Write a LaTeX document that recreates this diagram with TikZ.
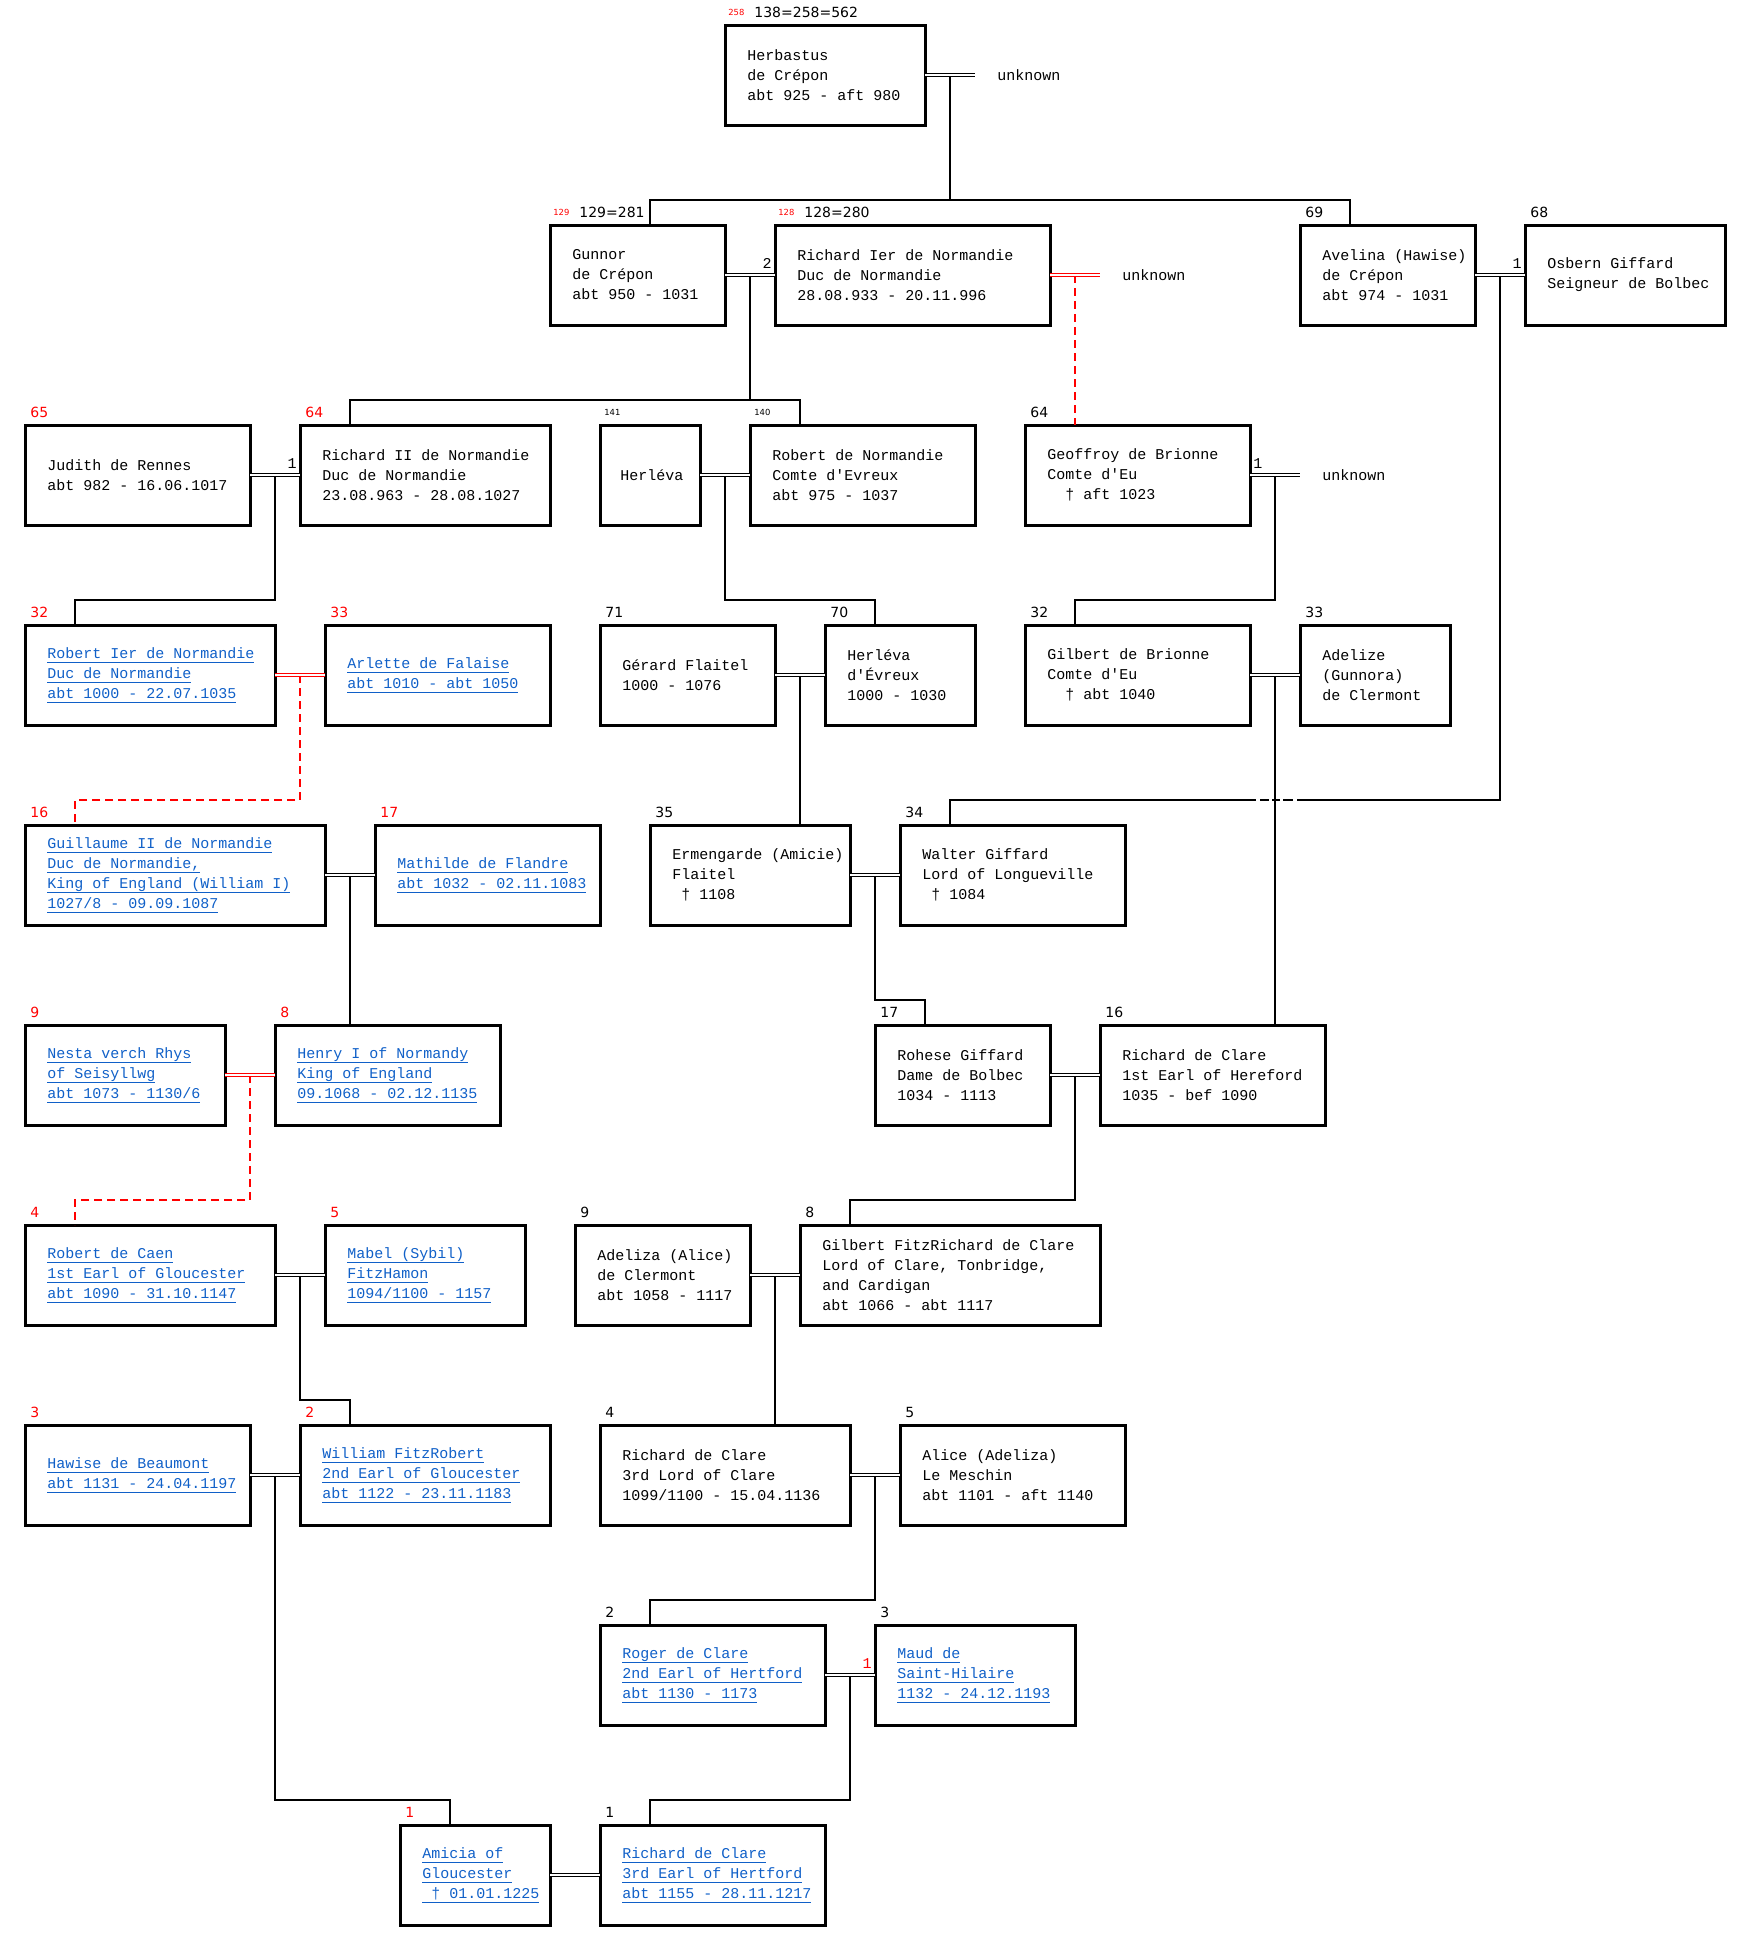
\documentclass[tikz,border=0pt]{standalone}
\usepackage{fontspec}
\setmonofont{Liberation Mono}
\newfontfamily\numfont{DejaVu Sans}
\definecolor{linkblue}{RGB}{16,96,200}
\newsavebox\lnkbox
\newcommand{\lnk}[1]{\sbox\lnkbox{#1}\rlap{\rule[-2pt]{\wd\lnkbox}{0.45pt}}\usebox\lnkbox}

\tikzset{
  pbox/.style={draw, line width=1.5pt, anchor=north west, inner sep=0pt, outer sep=0pt,
    minimum height=50pt, minimum width=#1*12.5pt},
  ptxt/.style={anchor=west, inner sep=0pt, align=left, font=\ttfamily\fontsize{7.5}{10}\selectfont},
  ltxt/.style={ptxt, text=linkblue},
  num/.style={anchor=base west, inner sep=0pt, font=\numfont\fontsize{7}{8}\selectfont},
  tnum/.style={anchor=base west, inner sep=0pt, font=\numfont\fontsize{4.2}{5}\selectfont},
  cnt/.style={inner sep=0pt, font=\ttfamily\fontsize{7.5}{10}\selectfont},
  wed/.style={double, line width=0.45pt, double distance=0.75pt},
  redwed/.style={wed, draw=red},
  desc/.style={line width=0.9pt},
  reddesc/.style={desc, draw=red, dash pattern=on 4pt off 2.5pt}
}

\begin{document}
\begin{tikzpicture}[x=12.5pt, y=-12.5pt]
\useasboundingbox (0,0) rectangle (70.04,78.04);

% row 0
\node[pbox=8] (herb) at (29,1) {};
\node[ptxt] (herbT) at ([xshift=11pt]herb.west) {Herbastus\\de Crépon\\abt 925 - aft 980};
\node[tnum, red] (herbS) at ([shift={(1.5pt,5pt)}]herb.north west) {258};
\node[num] (herbN) at ([shift={(14.5pt,4pt)}]herb.north west) {138=258=562};

% row 1
\node[pbox=7] (gunnor) at (22,9) {};
\node[ptxt] (gunnorT) at ([xshift=11pt]gunnor.west) {Gunnor\\de Crépon\\abt 950 - 1031};
\node[tnum, red] (gunnorS) at ([shift={(1.5pt,5pt)}]gunnor.north west) {129};
\node[num] (gunnorN) at ([shift={(14.5pt,4pt)}]gunnor.north west) {129=281};

\node[pbox=11] (richI) at (31,9) {};
\node[ptxt] (richIT) at ([xshift=11pt]richI.west) {Richard Ier de Normandie\\Duc de Normandie\\28.08.933 - 20.11.996};
\node[tnum, red] (richIS) at ([shift={(1.5pt,5pt)}]richI.north west) {128};
\node[num] (richIN) at ([shift={(14.5pt,4pt)}]richI.north west) {128=280};

\node[pbox=7] (avelina) at (52,9) {};
\node[ptxt] (avelinaT) at ([xshift=11pt]avelina.west) {Avelina (Hawise)\\de Crépon\\abt 974 - 1031};
\node[num] (avelinaN) at ([shift={(2.5pt,4pt)}]avelina.north west) {69};

\node[pbox=8] (osbern) at (61,9) {};
\node[ptxt] (osbernT) at ([xshift=11pt]osbern.west) {Osbern Giffard\\Seigneur de Bolbec};
\node[num] (osbernN) at ([shift={(2.5pt,4pt)}]osbern.north west) {68};

% row 2
\node[pbox=9] (judith) at (1,17) {};
\node[ptxt] (judithT) at ([xshift=11pt]judith.west) {Judith de Rennes\\abt 982 - 16.06.1017};
\node[num, red] (judithN) at ([shift={(2.5pt,4pt)}]judith.north west) {65};

\node[pbox=10] (richII) at (12,17) {};
\node[ptxt] (richIIT) at ([xshift=11pt]richII.west) {Richard II de Normandie\\Duc de Normandie\\23.08.963 - 28.08.1027};
\node[num, red] (richIIN) at ([shift={(2.5pt,4pt)}]richII.north west) {64};

\node[pbox=4] (herleva) at (24,17) {};
\node[ptxt] (herlevaT) at ([xshift=10pt]herleva.west) {Herléva};
\node[tnum] (herlevaN) at ([shift={(2pt,5pt)}]herleva.north west) {141};

\node[pbox=9] (robNorm) at (30,17) {};
\node[ptxt] (robNormT) at ([xshift=11pt]robNorm.west) {Robert de Normandie\\Comte d'Evreux\\abt 975 - 1037};
\node[tnum] (robNormN) at ([shift={(2pt,5pt)}]robNorm.north west) {140};

\node[pbox=9] (geoffroy) at (41,17) {};
\node[ptxt] (geoffroyT) at ([xshift=11pt]geoffroy.west) {Geoffroy de Brionne\\Comte d'Eu\\\phantom{00}† aft 1023};
\node[num] (geoffroyN) at ([shift={(2.5pt,4pt)}]geoffroy.north west) {64};

% row 3
\node[pbox=10] (robertI) at (1,25) {};
\node[ltxt] (robertIT) at ([xshift=11pt]robertI.west) {\lnk{Robert Ier de Normandie}\\\lnk{Duc de Normandie}\\\lnk{abt 1000 - 22.07.1035}};
\node[num, red] (robertIN) at ([shift={(2.5pt,4pt)}]robertI.north west) {32};

\node[pbox=9] (arlette) at (13,25) {};
\node[ltxt] (arletteT) at ([xshift=11pt]arlette.west) {\lnk{Arlette de Falaise}\\\lnk{abt 1010 - abt 1050}};
\node[num, red] (arletteN) at ([shift={(2.5pt,4pt)}]arlette.north west) {33};

\node[pbox=7] (gerard) at (24,25) {};
\node[ptxt] (gerardT) at ([xshift=11pt]gerard.west) {Gérard Flaitel\\1000 - 1076};
\node[num] (gerardN) at ([shift={(2.5pt,4pt)}]gerard.north west) {71};

\node[pbox=6] (herlevaE) at (33,25) {};
\node[ptxt] (herlevaET) at ([xshift=11pt]herlevaE.west) {Herléva\\d'Évreux\\1000 - 1030};
\node[num] (herlevaEN) at ([shift={(2.5pt,4pt)}]herlevaE.north west) {70};

\node[pbox=9] (gilbertB) at (41,25) {};
\node[ptxt] (gilbertBT) at ([xshift=11pt]gilbertB.west) {Gilbert de Brionne\\Comte d'Eu\\\phantom{00}† abt 1040};
\node[num] (gilbertBN) at ([shift={(2.5pt,4pt)}]gilbertB.north west) {32};

\node[pbox=6] (adelize) at (52,25) {};
\node[ptxt] (adelizeT) at ([xshift=11pt]adelize.west) {Adelize\\(Gunnora)\\de Clermont};
\node[num] (adelizeN) at ([shift={(2.5pt,4pt)}]adelize.north west) {33};

% row 4
\node[pbox=12] (guillaume) at (1,33) {};
\node[ltxt] (guillaumeT) at ([xshift=11pt]guillaume.west) {\lnk{Guillaume II de Normandie}\\\lnk{Duc de Normandie,}\\\lnk{King of England (William I)}\\\lnk{1027/8 - 09.09.1087}};
\node[num, red] (guillaumeN) at ([shift={(2.5pt,4pt)}]guillaume.north west) {16};

\node[pbox=9] (mathilde) at (15,33) {};
\node[ltxt] (mathildeT) at ([xshift=11pt]mathilde.west) {\lnk{Mathilde de Flandre}\\\lnk{abt 1032 - 02.11.1083}};
\node[num, red] (mathildeN) at ([shift={(2.5pt,4pt)}]mathilde.north west) {17};

\node[pbox=8] (ermengarde) at (26,33) {};
\node[ptxt] (ermengardeT) at ([xshift=11pt]ermengarde.west) {Ermengarde (Amicie)\\Flaitel\\\phantom{0}† 1108};
\node[num] (ermengardeN) at ([shift={(2.5pt,4pt)}]ermengarde.north west) {35};

\node[pbox=9] (walter) at (36,33) {};
\node[ptxt] (walterT) at ([xshift=11pt]walter.west) {Walter Giffard\\Lord of Longueville\\\phantom{0}† 1084};
\node[num] (walterN) at ([shift={(2.5pt,4pt)}]walter.north west) {34};

% row 5
\node[pbox=8] (nesta) at (1,41) {};
\node[ltxt] (nestaT) at ([xshift=11pt]nesta.west) {\lnk{Nesta verch Rhys}\\\lnk{of Seisyllwg}\\\lnk{abt 1073 - 1130/6}};
\node[num, red] (nestaN) at ([shift={(2.5pt,4pt)}]nesta.north west) {9};

\node[pbox=9] (henry) at (11,41) {};
\node[ltxt] (henryT) at ([xshift=11pt]henry.west) {\lnk{Henry I of Normandy}\\\lnk{King of England}\\\lnk{09.1068 - 02.12.1135}};
\node[num, red] (henryN) at ([shift={(2.5pt,4pt)}]henry.north west) {8};

\node[pbox=7] (rohese) at (35,41) {};
\node[ptxt] (roheseT) at ([xshift=11pt]rohese.west) {Rohese Giffard\\Dame de Bolbec\\1034 - 1113};
\node[num] (roheseN) at ([shift={(2.5pt,4pt)}]rohese.north west) {17};

\node[pbox=9] (richClareA) at (44,41) {};
\node[ptxt] (richClareAT) at ([xshift=11pt]richClareA.west) {Richard de Clare\\1st Earl of Hereford\\1035 - bef 1090};
\node[num] (richClareAN) at ([shift={(2.5pt,4pt)}]richClareA.north west) {16};

% row 6
\node[pbox=10] (robCaen) at (1,49) {};
\node[ltxt] (robCaenT) at ([xshift=11pt]robCaen.west) {\lnk{Robert de Caen}\\\lnk{1st Earl of Gloucester}\\\lnk{abt 1090 - 31.10.1147}};
\node[num, red] (robCaenN) at ([shift={(2.5pt,4pt)}]robCaen.north west) {4};

\node[pbox=8] (mabel) at (13,49) {};
\node[ltxt] (mabelT) at ([xshift=11pt]mabel.west) {\lnk{Mabel (Sybil)}\\\lnk{FitzHamon}\\\lnk{1094/1100 - 1157}};
\node[num, red] (mabelN) at ([shift={(2.5pt,4pt)}]mabel.north west) {5};

\node[pbox=7] (adeliza) at (23,49) {};
\node[ptxt] (adelizaT) at ([xshift=11pt]adeliza.west) {Adeliza (Alice)\\de Clermont\\abt 1058 - 1117};
\node[num] (adelizaN) at ([shift={(2.5pt,4pt)}]adeliza.north west) {9};

\node[pbox=12] (gilbertF) at (32,49) {};
\node[ptxt] (gilbertFT) at ([xshift=11pt]gilbertF.west) {Gilbert FitzRichard de Clare\\Lord of Clare, Tonbridge,\\and Cardigan\\abt 1066 - abt 1117};
\node[num] (gilbertFN) at ([shift={(2.5pt,4pt)}]gilbertF.north west) {8};

% row 7
\node[pbox=9] (hawise) at (1,57) {};
\node[ltxt] (hawiseT) at ([xshift=11pt]hawise.west) {\lnk{Hawise de Beaumont}\\\lnk{abt 1131 - 24.04.1197}};
\node[num, red] (hawiseN) at ([shift={(2.5pt,4pt)}]hawise.north west) {3};

\node[pbox=10] (william) at (12,57) {};
\node[ltxt] (williamT) at ([xshift=11pt]william.west) {\lnk{William FitzRobert}\\\lnk{2nd Earl of Gloucester}\\\lnk{abt 1122 - 23.11.1183}};
\node[num, red] (williamN) at ([shift={(2.5pt,4pt)}]william.north west) {2};

\node[pbox=10] (richClareB) at (24,57) {};
\node[ptxt] (richClareBT) at ([xshift=11pt]richClareB.west) {Richard de Clare\\3rd Lord of Clare\\1099/1100 - 15.04.1136};
\node[num] (richClareBN) at ([shift={(2.5pt,4pt)}]richClareB.north west) {4};

\node[pbox=9] (alice) at (36,57) {};
\node[ptxt] (aliceT) at ([xshift=11pt]alice.west) {Alice (Adeliza)\\Le Meschin\\abt 1101 - aft 1140};
\node[num] (aliceN) at ([shift={(2.5pt,4pt)}]alice.north west) {5};

% row 8
\node[pbox=9] (roger) at (24,65) {};
\node[ltxt] (rogerT) at ([xshift=11pt]roger.west) {\lnk{Roger de Clare}\\\lnk{2nd Earl of Hertford}\\\lnk{abt 1130 - 1173}};
\node[num] (rogerN) at ([shift={(2.5pt,4pt)}]roger.north west) {2};

\node[pbox=8] (maud) at (35,65) {};
\node[ltxt] (maudT) at ([xshift=11pt]maud.west) {\lnk{Maud de}\\\lnk{Saint-Hilaire}\\\lnk{1132 - 24.12.1193}};
\node[num] (maudN) at ([shift={(2.5pt,4pt)}]maud.north west) {3};

% row 9
\node[pbox=6] (amicia) at (16,73) {};
\node[ltxt] (amiciaT) at ([xshift=11pt]amicia.west) {\lnk{Amicia of}\\\lnk{Gloucester}\\\lnk{\phantom{0}† 01.01.1225}};
\node[num, red] (amiciaN) at ([shift={(2.5pt,4pt)}]amicia.north west) {1};

\node[pbox=9] (richClareC) at (24,73) {};
\node[ltxt] (richClareCT) at ([xshift=11pt]richClareC.west) {\lnk{Richard de Clare}\\\lnk{3rd Earl of Hertford}\\\lnk{abt 1155 - 28.11.1217}};
\node[num] (richClareCN) at ([shift={(2.5pt,4pt)}]richClareC.north west) {1};

% marriage points and unknown partners
\coordinate (herbU) at ([xshift=25pt]herb.east);
\coordinate (richIU) at ([xshift=25pt]richI.east);
\coordinate (geoffroyU) at ([xshift=25pt]geoffroy.east);
\node[ptxt] (herbUT) at ([xshift=11pt]herbU) {unknown};
\node[ptxt] (richIUT) at ([xshift=11pt]richIU) {unknown};
\node[ptxt] (geoffroyUT) at ([xshift=11pt]geoffroyU) {unknown};

\foreach \p in {herb,gunnor,richI,avelina,judith,herleva,geoffroy,robertI,gerard,gilbertB,
  guillaume,ermengarde,nesta,rohese,robCaen,adeliza,hawise,richClareB,roger}
  \coordinate (\p M) at ([xshift=12.5pt]\p.east);

% child drop points
\coordinate (gunnorD) at ([xshift=50pt]gunnor.north west);
\foreach \p in {avelina,richII,robNorm,robertI,herlevaE,gilbertB,guillaume,walter,
  rohese,robCaen,gilbertF,william,roger,amicia,richClareC}
  \coordinate (\p D) at ([xshift=25pt]\p.north west);

% lines of descent
\draw[desc] (herbM) |- ([yshift=12.5pt]gunnorD) -- (gunnorD);
\draw[desc] (herbM) |- ([yshift=12.5pt]avelinaD) -- (avelinaD);
\draw[desc] (gunnorM) |- ([yshift=12.5pt]richIID) -- (richIID);
\draw[desc] (gunnorM) |- ([yshift=12.5pt]robNormD) -- (robNormD);
\draw[reddesc] (richIM) -- (richIM |- geoffroy.north);
\draw[desc] (judithM) |- ([yshift=12.5pt]robertID) -- (robertID);
\draw[desc] (herlevaM) |- ([yshift=12.5pt]herlevaED) -- (herlevaED);
\draw[desc] (geoffroyM) |- ([yshift=12.5pt]gilbertBD) -- (gilbertBD);
\draw[reddesc] (robertIM) |- ([yshift=12.5pt]guillaumeD) -- (guillaumeD);
\draw[desc] (gerardM) -- (gerardM |- ermengarde.north);
\draw[desc] (gilbertBM) -- (gilbertBM |- richClareA.north);
\draw[desc] (avelinaM) |- ([yshift=12.5pt]walterD) -- (walterD);
\coordinate (cross) at ([yshift=12.5pt]gilbertBM |- walterD);
\draw[white, line width=2pt]
  ([xshift=-9.5pt]cross) -- ([xshift=-7.5pt]cross)
  ([xshift=-2.8pt]cross) -- ([xshift=-1.5pt]cross)
  ([xshift=2.5pt]cross) -- ([xshift=4pt]cross)
  ([xshift=9pt]cross) -- ([xshift=11pt]cross);
\draw[desc] (guillaumeM) -- (guillaumeM |- henry.north);
\draw[desc] (ermengardeM) |- ([yshift=12.5pt]roheseD) -- (roheseD);
\draw[reddesc] (nestaM) |- ([yshift=12.5pt]robCaenD) -- (robCaenD);
\draw[desc] (roheseM) |- ([yshift=12.5pt]gilbertFD) -- (gilbertFD);
\draw[desc] (robCaenM) |- ([yshift=12.5pt]williamD) -- (williamD);
\draw[desc] (adelizaM) -- (adelizaM |- richClareB.north);
\draw[desc] (hawiseM) |- ([yshift=12.5pt]amiciaD) -- (amiciaD);
\draw[desc] (richClareBM) |- ([yshift=12.5pt]rogerD) -- (rogerD);
\draw[desc] (rogerM) |- ([yshift=12.5pt]richClareCD) -- (richClareCD);

% marriages
\draw[wed] (herb.east) -- (herbU);
\draw[wed] (gunnor.east) -- (richI.west);
\draw[redwed] (richI.east) -- (richIU);
\draw[wed] (avelina.east) -- (osbern.west);
\draw[wed] (judith.east) -- (richII.west);
\draw[wed] (herleva.east) -- (robNorm.west);
\draw[wed] (geoffroy.east) -- (geoffroyU);
\draw[redwed] (robertI.east) -- (arlette.west);
\draw[wed] (gerard.east) -- (herlevaE.west);
\draw[wed] (gilbertB.east) -- (adelize.west);
\draw[wed] (guillaume.east) -- (mathilde.west);
\draw[wed] (ermengarde.east) -- (walter.west);
\draw[redwed] (nesta.east) -- (henry.west);
\draw[wed] (rohese.east) -- (richClareA.west);
\draw[wed] (robCaen.east) -- (mabel.west);
\draw[wed] (adeliza.east) -- (gilbertF.west);
\draw[wed] (hawise.east) -- (william.west);
\draw[wed] (richClareB.east) -- (alice.west);
\draw[wed] (roger.east) -- (maud.west);
\draw[wed] (amicia.east) -- (richClareC.west);

% marriage numbers
\node[cnt, anchor=south east] (richIC) at ([shift={(-1.5pt,3pt)}]richI.west) {2};
\node[cnt, anchor=south east] (osbernC) at ([shift={(-1.5pt,3pt)}]osbern.west) {1};
\node[cnt, anchor=south east] (richIIC) at ([shift={(-1.5pt,3pt)}]richII.west) {1};
\node[cnt, anchor=south west] (geoffroyC) at ([shift={(1.5pt,3pt)}]geoffroy.east) {1};
\node[cnt, anchor=south east, red] (maudC) at ([shift={(-1.5pt,3pt)}]maud.west) {1};
\end{tikzpicture}
\end{document}
